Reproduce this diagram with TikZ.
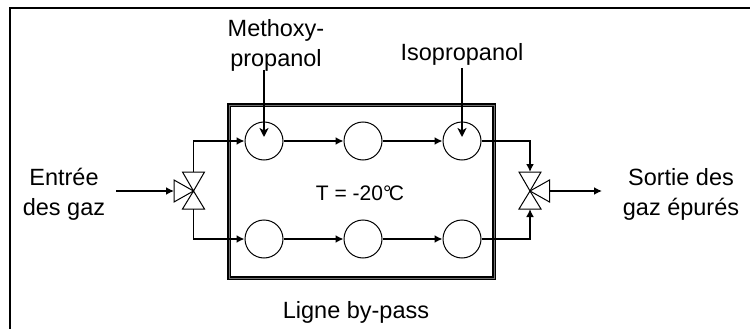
\documentclass[tikz,border=0pt]{standalone}
\usepackage{fontspec}
\setmainfont{Liberation Sans}
\usepackage{tikz}
\usetikzlibrary{arrows.meta, calc}
\tikzset{
  flow/.style={line width=1.8pt, -{Latex[length=8pt,width=8pt]}},
  feed/.style={line width=1.8pt, -{Stealth[length=9pt,width=9pt,inset=2.5pt]}},
  reactor/.style={circle, draw, line width=1pt, minimum size=38pt, inner sep=0pt},
  vessel/.style={draw, line width=2pt, double=black!55, double distance=0.6pt},
  label/.style={font=\fontsize{23.5}{30}\selectfont, align=center, inner sep=0pt},
  small/.style={font=\fontsize{21}{24}\selectfont, inner sep=0pt}
}
\newcommand{\fvalve}[3]{
\coordinate (#1) at (#2);
\coordinate (#1t) at ($(#1)+(0,-19)$);
\coordinate (#1b) at ($(#1)+(0,18)$);
\coordinate (#1s) at ($(#1)+(#3*19.5,0)$);
\draw[line width=1pt] (#1) -- ($(#1t)+(-11,0)$) -- ($(#1t)+(11,0)$) -- cycle;
\draw[line width=1pt] (#1) -- ($(#1b)+(-11,0)$) -- ($(#1b)+(11,0)$) -- cycle;
\draw[line width=1pt] (#1) -- ($(#1s)+(0,-11)$) -- ($(#1s)+(0,11)$) -- cycle;
}
\begin{document}
\begin{tikzpicture}[x=1pt,y=-1pt]
\useasboundingbox (0,0) rectangle (750,329);
\draw[line width=2.4pt] (10,329) -- (10,8) -- (750,8);
\draw[vessel] (229,105) rectangle (494,278);
\node[reactor] (a1) at (264,141) {};
\node[reactor] (a2) at (363,141) {};
\node[reactor] (a3) at (462,141) {};
\node[reactor] (b1) at (264,239) {};
\node[reactor] (b2) at (363,239) {};
\node[reactor] (b3) at (462,239) {};
\fvalve{vin}{193.5,191}{-1}
\fvalve{vout}{530,191}{1}
\coordinate (gasin) at (116,191);
\coordinate (gasout) at (602,191);
\coordinate (mfeed) at (264,70);
\coordinate (ifeed) at (462,68);
\draw[flow] (gasin) -- (vins);
\draw[flow] (vint) |- (a1);
\draw[flow] (vinb) |- (b1);
\draw[flow] (a1) -- (a2);
\draw[flow] (a2) -- (a3);
\draw[flow] (b1) -- (b2);
\draw[flow] (b2) -- (b3);
\draw[flow] (a3) -| (voutt);
\draw[flow] (b3) -| (voutb);
\draw[flow] (vouts) -- (gasout);
\draw[feed] (mfeed) -- ($(a1.center)+(0,-4)$);
\draw[feed] (ifeed) -- ($(a3.center)+(0,-4)$);
\node[label] (methoxy) at (276,45) {Methoxy-\\propanol};
\node[label] (iso) at (462,54) {Isopropanol};
\node[label] (entree) at (64,194) {Entrée\\des gaz};
\node[label] (sortie) at (681,194) {Sortie des\\gaz épurés};
\node[small] (temp) at (360,193) {T = -20°\kern-0.12em C};
\node[label] (bypass) at (356,312) {Ligne by-pass};
\end{tikzpicture}
\end{document}
